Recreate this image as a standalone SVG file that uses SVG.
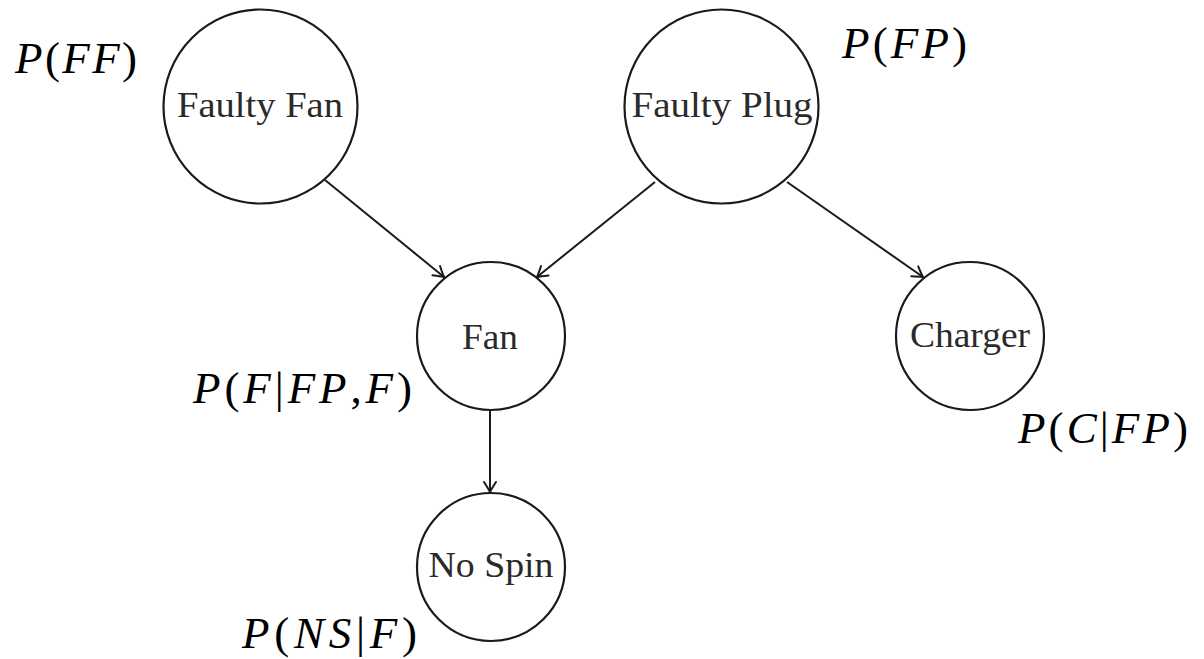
<svg xmlns="http://www.w3.org/2000/svg" width="1204" height="659" viewBox="0 0 1204 659">
<style>
.node circle{fill:#fff;stroke:#1a1a1a;stroke-width:2.2}
.node text{font-family:"Liberation Serif","DejaVu Serif",serif;font-size:36px;fill:#2a2a2a;text-anchor:middle}
.edge{stroke:#1a1a1a;stroke-width:2;fill:none;marker-end:url(#arr)}
.lbl{font-family:"Liberation Serif","DejaVu Serif",serif;font-size:45px;fill:#000}
.i{font-style:italic}
</style>
<defs>
<marker id="arr" viewBox="-12 -8 14 16" markerWidth="14" markerHeight="16" refX="0" refY="0" orient="auto" markerUnits="userSpaceOnUse">
<path d="M-10,-6 Q-3,-1.5 0,0 Q-3,1.5 -10,6" fill="none" stroke="#1a1a1a" stroke-width="2" stroke-linecap="round"/>
</marker>
</defs>
<g id="connectors">
<line class="edge" x1="325" y1="180" x2="444" y2="277"/>
<line class="edge" x1="655" y1="182" x2="537" y2="277"/>
<line class="edge" x1="787" y1="182" x2="923" y2="277"/>
<line class="edge" x1="490" y1="410" x2="490" y2="492"/>
</g>
<g id="faulty-fan" class="node">
<circle cx="260.5" cy="106.5" r="97"/>
<text x="260" y="117" textLength="166" lengthAdjust="spacingAndGlyphs">Faulty Fan</text>
</g>
<g id="faulty-plug" class="node">
<circle cx="721.5" cy="106.5" r="97"/>
<text x="722" y="117" textLength="181" lengthAdjust="spacingAndGlyphs">Faulty Plug</text>
</g>
<g id="fan" class="node">
<circle cx="491" cy="336" r="74"/>
<text x="490" y="349" textLength="56" lengthAdjust="spacingAndGlyphs">Fan</text>
</g>
<g id="charger" class="node">
<circle cx="970" cy="336" r="74"/>
<text x="970" y="347" textLength="120" lengthAdjust="spacingAndGlyphs">Charger</text>
</g>
<g id="no-spin" class="node">
<circle cx="491" cy="567" r="74"/>
<text x="491" y="577" textLength="125" lengthAdjust="spacingAndGlyphs">No Spin</text>
</g>
<g id="labels">
<text class="lbl" x="15" y="73" textLength="122" lengthAdjust="spacing"><tspan class="i">P</tspan>(<tspan class="i">FF</tspan>)</text>
<text class="lbl" x="842" y="58" textLength="125" lengthAdjust="spacing"><tspan class="i">P</tspan>(<tspan class="i">FP</tspan>)</text>
<text class="lbl" x="193" y="403" textLength="219" lengthAdjust="spacing"><tspan class="i">P</tspan>(<tspan class="i">F</tspan>|<tspan class="i">FP</tspan>,<tspan class="i">F</tspan>)</text>
<text class="lbl" x="1018" y="443" textLength="170" lengthAdjust="spacing"><tspan class="i">P</tspan>(<tspan class="i">C</tspan>|<tspan class="i">FP</tspan>)</text>
<text class="lbl" x="242" y="648" textLength="175" lengthAdjust="spacing"><tspan class="i">P</tspan>(<tspan class="i">NS</tspan>|<tspan class="i">F</tspan>)</text>
</g>
</svg>
